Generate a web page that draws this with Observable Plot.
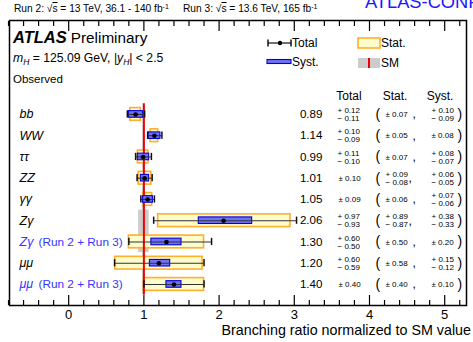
<!DOCTYPE html>
<html>
<head>
<meta charset="utf-8">
<script src="https://cdn.jsdelivr.net/npm/d3@7"></script>
<script src="https://cdn.jsdelivr.net/npm/@observablehq/plot@0.6"></script>
<style>
  html, body { margin: 0; padding: 0; background: #fff; overflow: hidden; }
  #chart svg { display: block; }
</style>
</head>
<body>
<div id="chart"></div>
<script>
// Higgs boson decay channels, observed branching ratios normalized to the SM
const channels     = ["bb", "WW", "ττ", "ZZ", "γγ", "Zγ", "Zγ", "μμ", "μμ"];
const channelNotes = ["", "", "", "", "", "", "(Run 2 + Run 3)", "", "(Run 2 + Run 3)"];
const mu        = [0.89, 1.14, 0.99, 1.01, 1.05, 2.06, 1.30, 1.20, 1.40];
const totalUp   = [0.12, 0.10, 0.11, 0.10, 0.09, 0.97, 0.60, 0.60, 0.40];
const totalDown = [0.11, 0.09, 0.10, 0.10, 0.09, 0.93, 0.50, 0.59, 0.40];
const statUp    = [0.07, 0.05, 0.07, 0.09, 0.06, 0.89, 0.50, 0.58, 0.40];
const statDown  = [0.07, 0.05, 0.07, 0.08, 0.06, 0.87, 0.50, 0.58, 0.40];
const systUp    = [0.10, 0.08, 0.08, 0.06, 0.07, 0.38, 0.20, 0.15, 0.10];
const systDown  = [0.09, 0.08, 0.07, 0.05, 0.06, 0.33, 0.20, 0.12, 0.10];
// SM prediction uncertainty (grey band around 1)
const smUnc     = [0.012, 0.015, 0.016, 0.015, 0.02, 0.07, 0.07, 0.017, 0.017];
const majorTicks = [0, 1, 2, 3, 4, 5];
const tickLabels = ["0", "1", "2", "3", "4", "5"];
const minorTicks = d3.range(-7, 27).map(k => +(k * 0.2).toFixed(1)).filter(v => !Number.isInteger(v));

const BLUE = "#3535ff";
const FONT = "'Liberation Sans', Arial, Helvetica, sans-serif";
const f2 = v => v.toFixed(2);
const MINUS = "\u2212";

const rows = channels.map((c, i) => ({
  row: i, channel: c, note: channelNotes[i], combined: channelNotes[i] !== "",
  mu: mu[i],
  totLo: mu[i] - totalDown[i], totHi: mu[i] + totalUp[i],
  statLo: mu[i] - statDown[i], statHi: mu[i] + statUp[i],
  systLo: mu[i] - systDown[i], systHi: mu[i] + systUp[i],
  smLo: 1 - smUnc[i], smHi: 1 + smUnc[i],
  tU: totalUp[i], tD: totalDown[i], sU: statUp[i], sD: statDown[i], yU: systUp[i], yD: systDown[i]
}));

const sym = (u, d) => u === d;
const small = {fontSize: 8, textAnchor: "start", frameAnchor: "right"};
const tickStyle = {tickFormat: () => "", strokeWidth: 1.2, label: null};

const plot = Plot.plot({
  width: 473,
  height: 342,
  marginLeft: 9,
  marginRight: 7,
  marginTop: 20,
  marginBottom: 37,
  x: {domain: [-0.787, 5.29], axis: null},
  y: {domain: [-4.42, 8.99], range: [20, 305], axis: null},
  style: {fontFamily: FONT, background: "white", color: "black", overflow: "visible"},
  marks: [
    // SM band and reference line
    Plot.rect(rows, {x1: "smLo", x2: "smHi", y1: d => d.row - 0.5, y2: d => d.row + 0.5, fill: "#cccccc"}),
    // statistical uncertainty boxes
    Plot.rect(rows, {x1: "statLo", x2: "statHi", y1: d => d.row - 0.3, y2: d => d.row + 0.3,
      fill: "#fffccc", stroke: "#ffae2e", strokeWidth: 1.6}),
    Plot.ruleX([1], {y1: -0.5, y2: 8.5, stroke: "#ee0000", strokeWidth: 2}),
    // systematic uncertainty boxes
    Plot.rect(rows, {x1: "systLo", x2: "systHi", y1: d => d.row - 0.155, y2: d => d.row + 0.155,
      fill: "#7070f8", stroke: "#0000e0", strokeWidth: 1.1}),
    // total uncertainty bars with caps
    Plot.ruleY(rows, {y: "row", x1: "totLo", x2: "totHi", stroke: "#333", strokeWidth: 1.1}),
    Plot.ruleX(rows, {x: "totLo", y1: d => d.row - 0.17, y2: d => d.row + 0.17, stroke: "#111", strokeWidth: 1.5}),
    Plot.ruleX(rows, {x: "totHi", y1: d => d.row - 0.17, y2: d => d.row + 0.17, stroke: "#111", strokeWidth: 1.5}),
    Plot.dot(rows, {x: "mu", y: "row", r: 2.3, fill: "black"}),

    // channel labels
    Plot.text(rows.filter(d => !d.combined), {y: "row", text: "channel", frameAnchor: "left", dx: 10,
      textAnchor: "start", fontStyle: "italic", fontSize: 12.5, fill: "black"}),
    Plot.text(rows.filter(d => d.combined), {y: "row", text: "channel", frameAnchor: "left", dx: 10,
      textAnchor: "start", fontStyle: "italic", fontSize: 12.5, fill: BLUE}),
    Plot.text(rows.filter(d => d.combined), {y: "row", text: "note", frameAnchor: "left", dx: 29,
      textAnchor: "start", fontSize: 11.8, fill: BLUE}),

    // central values
    Plot.text(rows, {y: "row", text: d => f2(d.mu), frameAnchor: "right", dx: -144, textAnchor: "end", fontSize: 11.6}),
    // total uncertainty column
    Plot.text(rows.filter(d => sym(d.tU, d.tD)), {y: "row", text: d => "± " + f2(d.tU), dx: -128, ...small}),
    Plot.text(rows.filter(d => !sym(d.tU, d.tD)), {y: "row", text: d => "+ " + f2(d.tU), dx: -129, dy: -3.8, ...small}),
    Plot.text(rows.filter(d => !sym(d.tU, d.tD)), {y: "row", text: d => MINUS + " " + f2(d.tD), dx: -129, dy: 4, ...small}),
    // brackets
    Plot.text(rows, {y: "row", text: () => "(", frameAnchor: "right", dx: -91, textAnchor: "start", fontSize: 14}),
    Plot.text(rows, {y: "row", text: () => ")", frameAnchor: "right", dx: -9, textAnchor: "start", fontSize: 14}),
    // statistical column
    Plot.text(rows.filter(d => sym(d.sU, d.sD)), {y: "row", text: d => "± " + f2(d.sU), dx: -81, ...small}),
    Plot.text(rows.filter(d => !sym(d.sU, d.sD)), {y: "row", text: d => "+ " + f2(d.sU), dx: -81, dy: -3.8, ...small}),
    Plot.text(rows.filter(d => !sym(d.sU, d.sD)), {y: "row", text: d => MINUS + " " + f2(d.sD), dx: -81, dy: 4, ...small}),
    Plot.text(rows.filter(d => sym(d.sU, d.sD)), {y: "row", text: () => ",", frameAnchor: "right", dx: -54, textAnchor: "start", fontSize: 12}),
    Plot.text(rows.filter(d => !sym(d.sU, d.sD)), {y: "row", text: () => ",", frameAnchor: "right", dx: -58, textAnchor: "start", fontSize: 12}),
    // systematic column
    Plot.text(rows.filter(d => sym(d.yU, d.yD)), {y: "row", text: d => "± " + f2(d.yU), dx: -35, ...small}),
    Plot.text(rows.filter(d => !sym(d.yU, d.yD)), {y: "row", text: d => "+ " + f2(d.yU), dx: -35, dy: -3.8, ...small}),
    Plot.text(rows.filter(d => !sym(d.yU, d.yD)), {y: "row", text: d => MINUS + " " + f2(d.yD), dx: -35, dy: 4, ...small}),

    // inward ticks on bottom and top edges
    Plot.axisX(majorTicks, {anchor: "bottom", tickSize: 10, dy: -10, ...tickStyle}),
    Plot.axisX(minorTicks, {anchor: "bottom", tickSize: 5, dy: -5, ...tickStyle}),
    Plot.axisX(majorTicks, {anchor: "top", tickSize: 10, dy: 10, ...tickStyle}),
    Plot.axisX(minorTicks, {anchor: "top", tickSize: 5, dy: 5, ...tickStyle}),
    Plot.axisX(majorTicks, {anchor: "bottom", tickSize: 0, tickPadding: 4, fontSize: 13, label: null,
      tickFormat: (d, i) => tickLabels[i]}),
    Plot.frame({stroke: "black", strokeWidth: 1.5})
  ]
});

document.getElementById("chart").append(plot);

// Annotations: header, labels, column titles and legend
const svg = d3.select(plot);
const g = svg.append("g").attr("font-family", FONT).attr("fill", "black").attr("text-anchor", "start");

function addText(x, y, size, parts, attrs = {}) {
  const t = g.append("text").attr("x", x).attr("y", y).attr("font-size", size);
  for (const [k, v] of Object.entries(attrs)) t.attr(k, v);
  for (const p of parts) {
    const s = t.append("tspan").text(p.t);
    if (p.x != null) s.attr("x", p.x);
    if (p.dx != null) s.attr("dx", p.dx);
    if (p.dy != null) s.attr("dy", p.dy);
    if (p.size) s.attr("font-size", p.size);
    if (p.style) s.attr("font-style", p.style);
    if (p.weight) s.attr("font-weight", p.weight);
    if (p.deco) s.attr("text-decoration", p.deco);
  }
  return t;
}

// luminosity line
addText(14, 12, 10.2, [
  {t: "Run 2: √"}, {t: "s", deco: "overline"}, {t: " = 13 TeV, 36.1 - 140 fb"},
  {t: "-1", dy: -3.5, size: 7},
  {t: "Run 3: √", x: 183, dy: 3.5}, {t: "s", deco: "overline"}, {t: " = 13.6 TeV, 165 fb"},
  {t: "-1", dy: -3.5, size: 7}
]);
addText(365, 8, 18.3, [{t: "ATLAS-CONF-2025"}], {fill: "#1a1aff"});

addText(13, 43, 16.5, [
  {t: "ATLAS", style: "italic", weight: "bold"},
  {t: "Preliminary", dx: 4, size: 15.3}
]);
addText(13, 62, 12.2, [
  {t: "m", style: "italic"}, {t: "H", style: "italic", size: 8.5, dy: 3},
  {t: " = 125.09 GeV, |", dy: -3}, {t: "y", style: "italic"}, {t: "H", style: "italic", size: 8.5, dy: 3},
  {t: "| < 2.5", dy: -3}
]);
addText(13, 83, 11.5, [{t: "Observed"}]);

// column titles
addText(349, 100, 12, [{t: "Total"}], {"text-anchor": "middle"});
addText(395, 100, 12, [{t: "Stat."}], {"text-anchor": "middle"});
addText(440, 100, 12, [{t: "Syst."}], {"text-anchor": "middle"});

// axis title
addText(471, 335, 14.3, [{t: "Branching ratio normalized to SM value"}], {"text-anchor": "end"});

// legend
const L = svg.append("g");
L.append("line").attr("x1", 268).attr("x2", 291).attr("y1", 43).attr("y2", 43).attr("stroke", "#111").attr("stroke-width", 1.2);
L.append("line").attr("x1", 268).attr("x2", 268).attr("y1", 39.5).attr("y2", 46.5).attr("stroke", "#111").attr("stroke-width", 1.5);
L.append("line").attr("x1", 291).attr("x2", 291).attr("y1", 39.5).attr("y2", 46.5).attr("stroke", "#111").attr("stroke-width", 1.5);
L.append("circle").attr("cx", 280).attr("cy", 43).attr("r", 2.2).attr("fill", "black");
addText(292, 47, 12, [{t: "Total"}]);

L.append("rect").attr("x", 358).attr("y", 38).attr("width", 22).attr("height", 10)
  .attr("fill", "#fffccc").attr("stroke", "#ffae2e").attr("stroke-width", 1.6);
addText(381, 47, 12, [{t: "Stat."}]);

L.append("rect").attr("x", 267).attr("y", 59.5).attr("width", 24).attr("height", 4)
  .attr("fill", "#7070f8").attr("stroke", "#0000e0").attr("stroke-width", 1.1);
addText(292, 66, 12, [{t: "Syst."}]);

L.append("rect").attr("x", 358).attr("y", 58).attr("width", 22).attr("height", 10).attr("fill", "#cccccc");
L.append("line").attr("x1", 369).attr("x2", 369).attr("y1", 58).attr("y2", 68).attr("stroke", "#ee0000").attr("stroke-width", 2);
addText(381, 67, 12, [{t: "SM"}]);
</script>
</body>
</html>
